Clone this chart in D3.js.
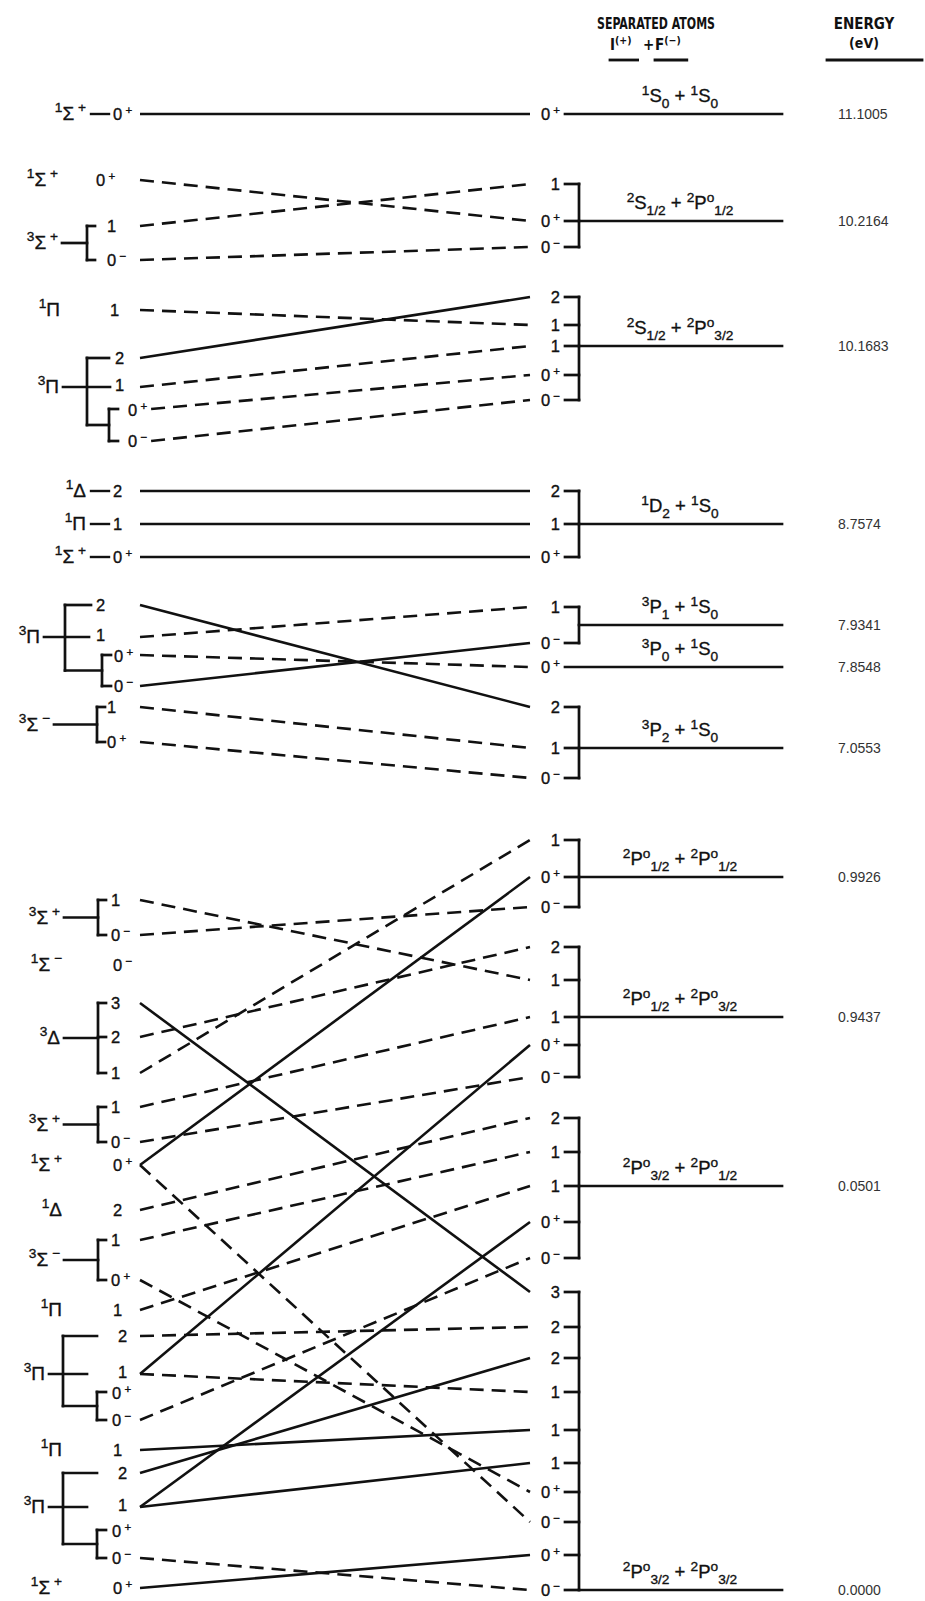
<!DOCTYPE html>
<html>
<head>
<meta charset="utf-8">
<script src="https://cdn.jsdelivr.net/npm/d3@7"></script>
<style>
  html, body { margin: 0; padding: 0; background: #fff; }
  svg { display: block; }
  text { font-family: "Liberation Sans", Arial, sans-serif; fill: #111; white-space: pre; }
  .lbl { stroke: #111; stroke-width: 0.35; }
  .head { font-family: "Liberation Sans Narrow", "DejaVu Sans Condensed", "DejaVu Sans", sans-serif;
          font-stretch: condensed; font-weight: bold; }
  .energy { fill: #333; }
</style>
</head>
<body>
<svg id="chart" width="925" height="1601"></svg>
<script>
// markup used in labels: {..} superscript, [..] subscript

// ----- Separated-atom limits, top to bottom -----
const limitTerms = [
  "{1}S[0] + {1}S[0]",
  "{2}S[1/2] + {2}P{o}[1/2]",
  "{2}S[1/2] + {2}P{o}[3/2]",
  "{1}D[2] + {1}S[0]",
  "{3}P[1] + {1}S[0]",
  "{3}P[0] + {1}S[0]",
  "{3}P[2] + {1}S[0]",
  "{2}P{o}[1/2] + {2}P{o}[1/2]",
  "{2}P{o}[1/2] + {2}P{o}[3/2]",
  "{2}P{o}[3/2] + {2}P{o}[1/2]",
  "{2}P{o}[3/2] + {2}P{o}[3/2]"
];
const limitEnergies = ["11.1005", "10.2164", "10.1683", "8.7574", "7.9341", "7.8548",
  "7.0553", "0.9926", "0.9437", "0.0501", "0.0000"];
// schematic height on the diagram (0 = bottom, 160 = top)
const limitHeights = [148.7, 138.0, 125.5, 107.7, 97.6, 93.4, 85.3, 72.4, 58.4, 41.5, 1.1];

// Omega components arriving at each limit
const limitOmegas = [
  ["0{ +}"],
  ["1", "0{ +}", "0{ −}"],
  ["2", "1", "1", "0{ +}", "0{ −}"],
  ["2", "1", "0{ +}"],
  ["1", "0{ −}"],
  ["0{ +}"],
  ["2", "1", "0{ −}"],
  ["1", "0{ +}", "0{ −}"],
  ["2", "1", "1", "0{ +}", "0{ −}"],
  ["2", "1", "1", "0{ +}", "0{ −}"],
  ["3", "2", "2", "1", "1", "1", "0{ +}", "0{ −}", "0{ +}", "0{ −}"]
];
const limitOmegaHeights = [
  [148.7],
  [141.7, 138.0, 135.4],
  [130.4, 127.6, 125.5, 122.6, 120.1],
  [111.0, 107.7, 104.4],
  [99.4, 95.8],
  [93.4],
  [89.4, 85.3, 82.3],
  [76.1, 72.4, 69.4],
  [65.4, 62.1, 58.4, 55.6, 52.4],
  [48.3, 44.9, 41.5, 37.9, 34.3],
  [30.9, 27.4, 24.3, 20.9, 17.1, 13.8, 10.9, 7.9, 4.6, 1.1]
];

// ----- Molecular states (left side), top to bottom -----
const stateTerms = [
  "{1}Σ{ +}", "{1}Σ{ +}", "{3}Σ{ +}", "{1}Π", "{3}Π", "{1}Δ", "{1}Π", "{1}Σ{ +}", "{3}Π", "{3}Σ{ −}",
  "{3}Σ{ +}", "{1}Σ{ −}", "{3}Δ", "{3}Σ{ +}", "{1}Σ{ +}", "{1}Δ", "{3}Σ{ −}", "{1}Π", "{3}Π", "{1}Π",
  "{3}Π", "{1}Σ{ +}"
];
const stateOmegas = [
  ["0{ +}"], ["0{ +}"], ["1", "0{ −}"], ["1"], ["2", "1", "0{ +}", "0{ −}"], ["2"], ["1"], ["0{ +}"],
  ["2", "1", "0{ +}", "0{ −}"], ["1", "0{ +}"],
  ["1", "0{ −}"], ["0{ −}"], ["3", "2", "1"], ["1", "0{ −}"], ["0{ +}"], ["2"], ["1", "0{ +}"], ["1"],
  ["2", "1", "0{ +}", "0{ −}"], ["1"], ["2", "1", "0{ +}", "0{ −}"], ["0{ +}"]
];
const stateOmegaHeights = [
  [148.7], [142.1], [137.5, 134.1], [129.1], [124.3, 121.4, 119.2, 116.0], [111.0], [107.7], [104.4],
  [99.6, 96.4, 94.6, 91.5], [89.4, 85.9],
  [70.1, 66.6], [63.6], [59.8, 56.4, 52.8], [49.4, 45.9], [43.6], [39.1], [36.1, 32.1], [29.1],
  [26.5, 22.7, 20.9, 18.1], [15.1], [12.8, 9.4, 7.1, 4.3], [1.3]
];
// correlation of each Omega component: "limit:omega:style" (s solid, d dashed)
const stateLinks = [
  [["0:0:s"]],
  [["1:1:d"]],
  [["1:0:d"], ["1:2:d"]],
  [["2:1:d"]],
  [["2:0:s"], ["2:2:d"], ["2:3:d"], ["2:4:d"]],
  [["3:0:s"]],
  [["3:1:s"]],
  [["3:2:s"]],
  [["6:0:s"], ["4:0:d"], ["5:0:d"], ["4:1:s"]],
  [["6:1:d"], ["6:2:d"]],
  [["8:1:d"], ["7:2:d"]],
  [[]],
  [["10:0:s"], ["8:0:d"], ["7:0:d"]],
  [["8:2:d"], ["8:4:d"]],
  [["7:1:s", "10:7:d"]],
  [["9:0:d"]],
  [["9:1:d"], ["10:6:d"]],
  [["9:2:d"]],
  [["10:1:d"], ["10:3:d", "8:3:s"], [], ["9:4:d"]],
  [["10:4:s"]],
  [["10:2:s"], ["10:5:s", "9:3:s"], [], ["10:9:d"]],
  [["10:8:s"]]
];

// ----- Layout -----
const svg = d3.select("#chart");
const y = d3.scaleLinear().domain([0, 160.1]).range([1601, 0]);
const x = d3.scaleLinear().domain([0, 1]).range([140, 530]); // 0 = molecule, 1 = separated atoms

const R = { label: 560, tick: 565, bar: 579, end: 782, term: 680, energy: 838 };
const singleLayout = { joined: { label: 86, om: 113 }, plain: { label: 62, om: 113 },
  1: { label: 58, om: 96 }, 3: { label: 60, om: 110 } };
const bracketLayout = { default: { label: 60, bar: 98, om: 111 }, 2: { label: 58, bar: 87, om: 107 },
  9: { label: 50, bar: 97, om: 107 } };
const nestedLayout = { default: { label: 45, bar: 63, sub: 97, outer: 118, inner: 112 },
  4: { label: 59, bar: 87, sub: 109, outer: 115, inner: 128 },
  8: { label: 40, bar: 65, sub: 102, outer: 96, inner: 114 } };

const INK = "#111";
const OM_SIZE = 16.5, STATE_SIZE = 19, TERM_SIZE = 18.5;

function rich(sel, str, size, ratio = 0.7, lift = 0.4) {
  const re = /\{([^}]*)\}|\[([^\]]*)\]|([^{[]+)/g;
  let m, cur = 0;
  while ((m = re.exec(str)) !== null) {
    const kind = m[1] !== undefined ? "sup" : m[2] !== undefined ? "sub" : "base";
    const txt = kind === "sup" ? m[1] : kind === "sub" ? m[2] : m[3];
    const off = kind === "sup" ? -lift * size : kind === "sub" ? 0.34 * size : 0;
    sel.append("tspan")
      .attr("dy", off - cur)
      .attr("font-size", kind === "base" ? size : Math.round(size * ratio * 10) / 10)
      .text(txt);
    cur = off;
  }
  return sel;
}

function seg(g, x1, x2, y1, y2, w = 2.7) {
  return g.append("line")
    .attr("x1", x1).attr("x2", x2).attr("y1", y1).attr("y2", y2)
    .attr("stroke", INK).attr("stroke-width", w).attr("stroke-linecap", "square");
}

const parseLink = s => { const p = s.split(":"); return [+p[0], +p[1], p[2]]; };

const gLines = svg.append("g");
const gRight = svg.append("g");
const gLeft = svg.append("g");

// ----- Header -----
svg.append("text").attr("class", "head").attr("x", 656).attr("y", 29)
  .attr("text-anchor", "middle").attr("font-size", 15)
  .attr("textLength", 118).attr("lengthAdjust", "spacingAndGlyphs").text("SEPARATED ATOMS");
const ion1 = rich(svg.append("text").attr("class", "head").attr("x", 610).attr("y", 50)
  .attr("font-size", 15), "I{(+)}", 15);
svg.append("text").attr("class", "head").attr("x", 643).attr("y", 50).attr("font-size", 15).text("+");
const ion2 = rich(svg.append("text").attr("class", "head").attr("x", 655).attr("y", 50)
  .attr("font-size", 15), "F{(−)}", 15);
[ion1, ion2].forEach(t => {
  const b = t.node().getBBox();
  seg(svg, b.x, b.x + b.width + 6, 60, 60, 2.8);
});
svg.append("text").attr("class", "head").attr("x", 864).attr("y", 29)
  .attr("text-anchor", "middle").attr("font-size", 15).text("ENERGY");
svg.append("text").attr("class", "head").attr("x", 864).attr("y", 48)
  .attr("text-anchor", "middle").attr("font-size", 14).text("(eV)");
seg(svg, 827, 922, 60, 60, 2.8);

// ----- Right side: separated-atom limits -----
const rightStart = limitOmegas.map(() => []);
limitTerms.forEach((term, i) => {
  const oms = limitOmegas[i];
  const ys = limitOmegaHeights[i].map(y);
  oms.forEach((om, j) => {
    const t = gRight.append("text").attr("class", "lbl").attr("x", R.label).attr("y", ys[j] + 6)
      .attr("text-anchor", "end").attr("font-size", OM_SIZE);
    rich(t, om, OM_SIZE, 0.7, 0.36);
    rightStart[i][j] = R.label - t.node().getComputedTextLength();
  });
  const yl = y(limitHeights[i]);
  if (oms.length > 1) {
    seg(gRight, R.bar, R.bar, ys[0], ys[ys.length - 1]);
    ys.forEach(v => seg(gRight, R.tick, R.bar, v, v));
    seg(gRight, R.bar, R.end, yl, yl);
  } else {
    seg(gRight, R.tick, R.end, yl, yl);
  }
  rich(gRight.append("text").attr("class", "lbl").attr("x", R.term).attr("y", yl - 12)
    .attr("text-anchor", "middle").attr("font-size", TERM_SIZE), term, TERM_SIZE, 0.74);
  gRight.append("text").attr("class", "energy").attr("x", R.energy).attr("y", yl + 5)
    .attr("font-size", 14).text(limitEnergies[i]);
});

// ----- Left side: molecular states -----
const leftEnd = stateOmegas.map(() => []);
stateTerms.forEach((term, i) => {
  const oms = stateOmegas[i], n = oms.length;
  const ys = stateOmegaHeights[i].map(y);
  const g = gLeft.append("g");
  let omX, omDy = oms.map(() => 6), termX, termY;

  if (n === 1) {
    const joined = stateLinks[i][0].some(s => {
      const [li, oi, st] = parseLink(s);
      return st === "s" && limitOmegaHeights[li][oi] === stateOmegaHeights[i][0];
    });
    const L = singleLayout[i] || (joined ? singleLayout.joined : singleLayout.plain);
    omX = [L.om]; termX = L.label; termY = ys[0];
    if (joined) seg(g, L.label + 5, L.om - 4, ys[0], ys[0], 2.4);
  } else if (n === 4) {
    const L = nestedLayout[i] || nestedLayout.default;
    const jy = (ys[2] + ys[3]) / 2;
    const armEnd = Math.min(L.sub, L.outer - 5);
    seg(g, L.bar, L.bar, ys[0], jy);
    seg(g, L.bar, armEnd, ys[0], ys[0]);
    seg(g, L.label + 4, Math.min(L.bar + 24, L.outer - 5), ys[1], ys[1]);
    seg(g, L.bar, L.sub, jy, jy);
    seg(g, L.sub, L.sub, ys[2], ys[3]);
    seg(g, L.sub, L.sub + 9, ys[2], ys[2]);
    seg(g, L.sub, L.sub + 9, ys[3], ys[3]);
    omX = [L.outer, L.outer, L.inner, L.inner]; termX = L.label; termY = ys[1];
    omDy = [6, 4, 7, 6];
  } else {
    const L = bracketLayout[i] || bracketLayout.default;
    const mid = (ys[0] + ys[n - 1]) / 2;
    seg(g, L.label + 4, L.bar, mid, mid);
    seg(g, L.bar, L.bar, ys[0], ys[n - 1]);
    ys.forEach(v => seg(g, L.bar, L.bar + 8, v, v));
    omX = oms.map(() => L.om); termX = L.label; termY = mid;
  }

  rich(g.append("text").attr("class", "lbl").attr("x", termX).attr("y", termY + 6)
    .attr("text-anchor", "end").attr("font-size", STATE_SIZE), term, STATE_SIZE, 0.72);
  oms.forEach((om, j) => {
    const t = g.append("text").attr("class", "lbl").attr("x", omX[j]).attr("y", ys[j] + omDy[j])
      .attr("font-size", OM_SIZE);
    rich(t, om, OM_SIZE, 0.7, 0.36);
    leftEnd[i][j] = omX[j] + t.node().getComputedTextLength();
  });
});

// ----- Correlation lines -----
const links = [];
stateLinks.forEach((comps, i) => comps.forEach((list, j) => list.forEach(s => {
  const [li, oi, st] = parseLink(s);
  links.push({
    x1: Math.max(x(0), leftEnd[i][j] + 4),
    y1: y(stateOmegaHeights[i][j]),
    x2: Math.min(x(1), rightStart[li][oi] - 4),
    y2: y(limitOmegaHeights[li][oi]),
    style: st
  });
})));

const line = d3.line();
gLines.selectAll("path")
  .data(links)
  .enter()
  .append("path")
  .attr("d", d => line([[d.x1, d.y1], [d.x2, d.y2]]))
  .attr("fill", "none")
  .attr("stroke", INK)
  .attr("stroke-width", 2.6)
  .attr("stroke-dasharray", d => d.style === "d" ? "14 8" : null);
</script>
</body>
</html>
